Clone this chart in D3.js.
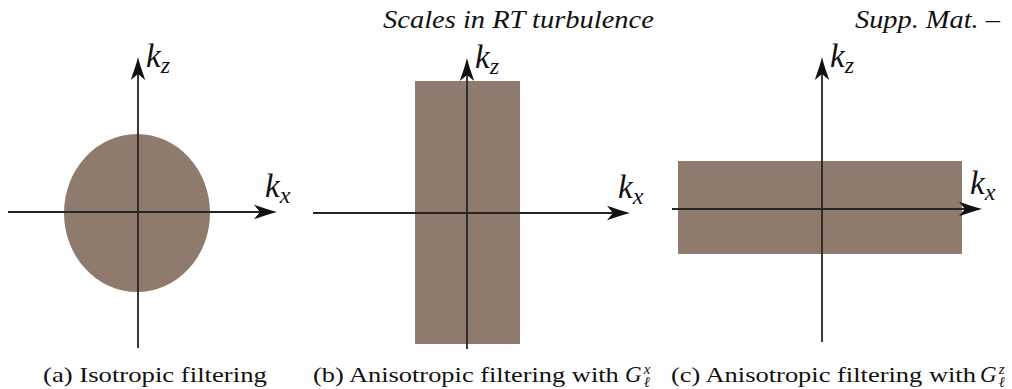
<!DOCTYPE html>
<html>
<head>
<meta charset="utf-8">
<script src="https://cdn.jsdelivr.net/npm/d3@7/dist/d3.min.js"></script>
<style>
  html, body { margin: 0; padding: 0; background: #fff; }
  svg { display: block; }
</style>
</head>
<body>
<svg id="fig" width="1012" height="389" font-family="Liberation Serif"></svg>
<script>
// Spectral filter supports in the (kx, kz) plane, one panel per filter type.
// Extents are in normalised wavenumber units.
const panelIds      = ["a", "b", "c"];
const captionText   = ["(a) Isotropic filtering", "(b) Anisotropic filtering with", "(c) Anisotropic filtering with"];
const captionKernel = [null, "x", "z"];          // superscript of G_ℓ
const filterShape   = ["ellipse", "rect", "rect"];
const filterKx      = [0.73, 0.525, 1.42];        // half-width along kx
const filterKz      = [0.79, 1.315, 0.465];       // half-height along kz
const filterCx      = [-0.01, 0.005, -0.02];      // centre of the support
const filterCz      = [-0.01, 0.005, 0.015];
const axisKxMin     = [-1.30, -1.54, -1.50];
const axisKxMax     = [1.39, 1.63, 1.60];
const axisKzMin     = [-1.36, -1.36, -1.33];
const axisKzMax     = [1.55, 1.55, 1.52];
const headerLeft    = "Scales in RT turbulence";
const headerRight   = "Supp. Mat. –";

// Page layout
const origins  = [[138, 212], [467, 213], [822, 209]];
const unitPx   = 100;
const fillCol  = "#8f7b6d";
const axisCol  = "#262626";
const serifFam = "Liberation Serif";

const svg = d3.select("#fig");

function txt(sel) {
  return sel.append("text").attr("font-family", serifFam).attr("fill", "#111");
}

// Text set at (x, baseline) and stretched horizontally to a given width
function fitted(x, y, width, size, italic, str) {
  const g = svg.append("g");
  const t = txt(g).attr("x", 0).attr("y", 0).attr("font-size", size)
    .attr("font-style", italic ? "italic" : "normal").text(str);
  const w = t.node().getComputedTextLength() || width;
  g.attr("transform", `translate(${x},${y}) scale(${width / w},1)`);
  return g;
}

// Stealth-style arrow head, tip at the origin, pointing along +x
const headPath = "M0,0 C-7,-1.6 -15,-4.6 -23,-7.2 L-17,0 L-23,7.2 C-15,4.6 -7,1.6 0,0 Z";

panelIds.forEach((id, i) => {
  const [ox, oz] = origins[i];
  const x = d3.scaleLinear().domain([-1, 1]).range([ox - unitPx, ox + unitPx]);
  const z = d3.scaleLinear().domain([-1, 1]).range([oz + unitPx, oz - unitPx]);
  const g = svg.append("g").attr("class", "panel-" + id);

  // filter support
  if (filterShape[i] === "ellipse") {
    g.append("ellipse")
      .attr("cx", x(filterCx[i])).attr("cy", z(filterCz[i]))
      .attr("rx", x(filterKx[i]) - x(0)).attr("ry", z(0) - z(filterKz[i]))
      .attr("fill", fillCol);
  } else {
    g.append("rect")
      .attr("x", x(filterCx[i] - filterKx[i]))
      .attr("y", z(filterCz[i] + filterKz[i]))
      .attr("width", x(filterCx[i] + filterKx[i]) - x(filterCx[i] - filterKx[i]))
      .attr("height", z(filterCz[i] - filterKz[i]) - z(filterCz[i] + filterKz[i]))
      .attr("fill", fillCol);
  }

  // kx axis
  const xTip = x(axisKxMax[i]);
  g.append("line")
    .attr("x1", x(axisKxMin[i])).attr("x2", xTip - 16)
    .attr("y1", z(0)).attr("y2", z(0))
    .attr("stroke", axisCol).attr("stroke-width", 1.8);
  g.append("path").attr("d", headPath).attr("fill", "#111")
    .attr("transform", `translate(${xTip},${z(0)})`);

  // kz axis
  const zTip = z(axisKzMax[i]);
  g.append("line")
    .attr("x1", x(0)).attr("x2", x(0))
    .attr("y1", z(axisKzMin[i])).attr("y2", zTip + 16)
    .attr("stroke", axisCol).attr("stroke-width", 1.8);
  g.append("path").attr("d", headPath).attr("fill", "#111")
    .attr("transform", `translate(${x(0)},${zTip}) rotate(-90)`);

  // axis labels k_x, k_z
  const kx = txt(g).attr("x", xTip - 12).attr("y", z(0) - 15)
    .attr("font-style", "italic").attr("font-size", 33);
  kx.append("tspan").text("k");
  kx.append("tspan").attr("dy", 6).attr("font-size", 24).text("x");

  const kz = txt(g).attr("x", x(0) + 8).attr("y", zTip + 10)
    .attr("font-style", "italic").attr("font-size", 33);
  kz.append("tspan").text("k");
  kz.append("tspan").attr("dy", 6).attr("font-size", 24).text("z");
});

// Sub-figure captions
const capLayout = [
  { x: 43,  w: 224 },
  { x: 313, w: 306, gx: 625 },
  { x: 671, w: 305, gx: 980 }
];
const capBase = 382;
captionText.forEach((t, i) => {
  const L = capLayout[i];
  fitted(L.x, capBase, L.w, 22, false, t);
  if (captionKernel[i]) {
    const G = txt(svg).attr("x", L.gx).attr("y", capBase)
      .attr("font-style", "italic").attr("font-size", 23).text("G");
    const gw = G.node().getComputedTextLength();
    txt(svg).attr("x", L.gx + gw + 2).attr("y", capBase - 8)
      .attr("font-style", "italic").attr("font-size", 15).text(captionKernel[i]);
    txt(svg).attr("x", L.gx + gw + 2).attr("y", capBase + 5)
      .attr("font-style", "italic").attr("font-size", 15).text("ℓ");
  }
});

// Running header
fitted(383, 28, 271, 25, true, headerLeft);
fitted(855, 28, 145, 25, true, headerRight);
</script>
</body>
</html>
